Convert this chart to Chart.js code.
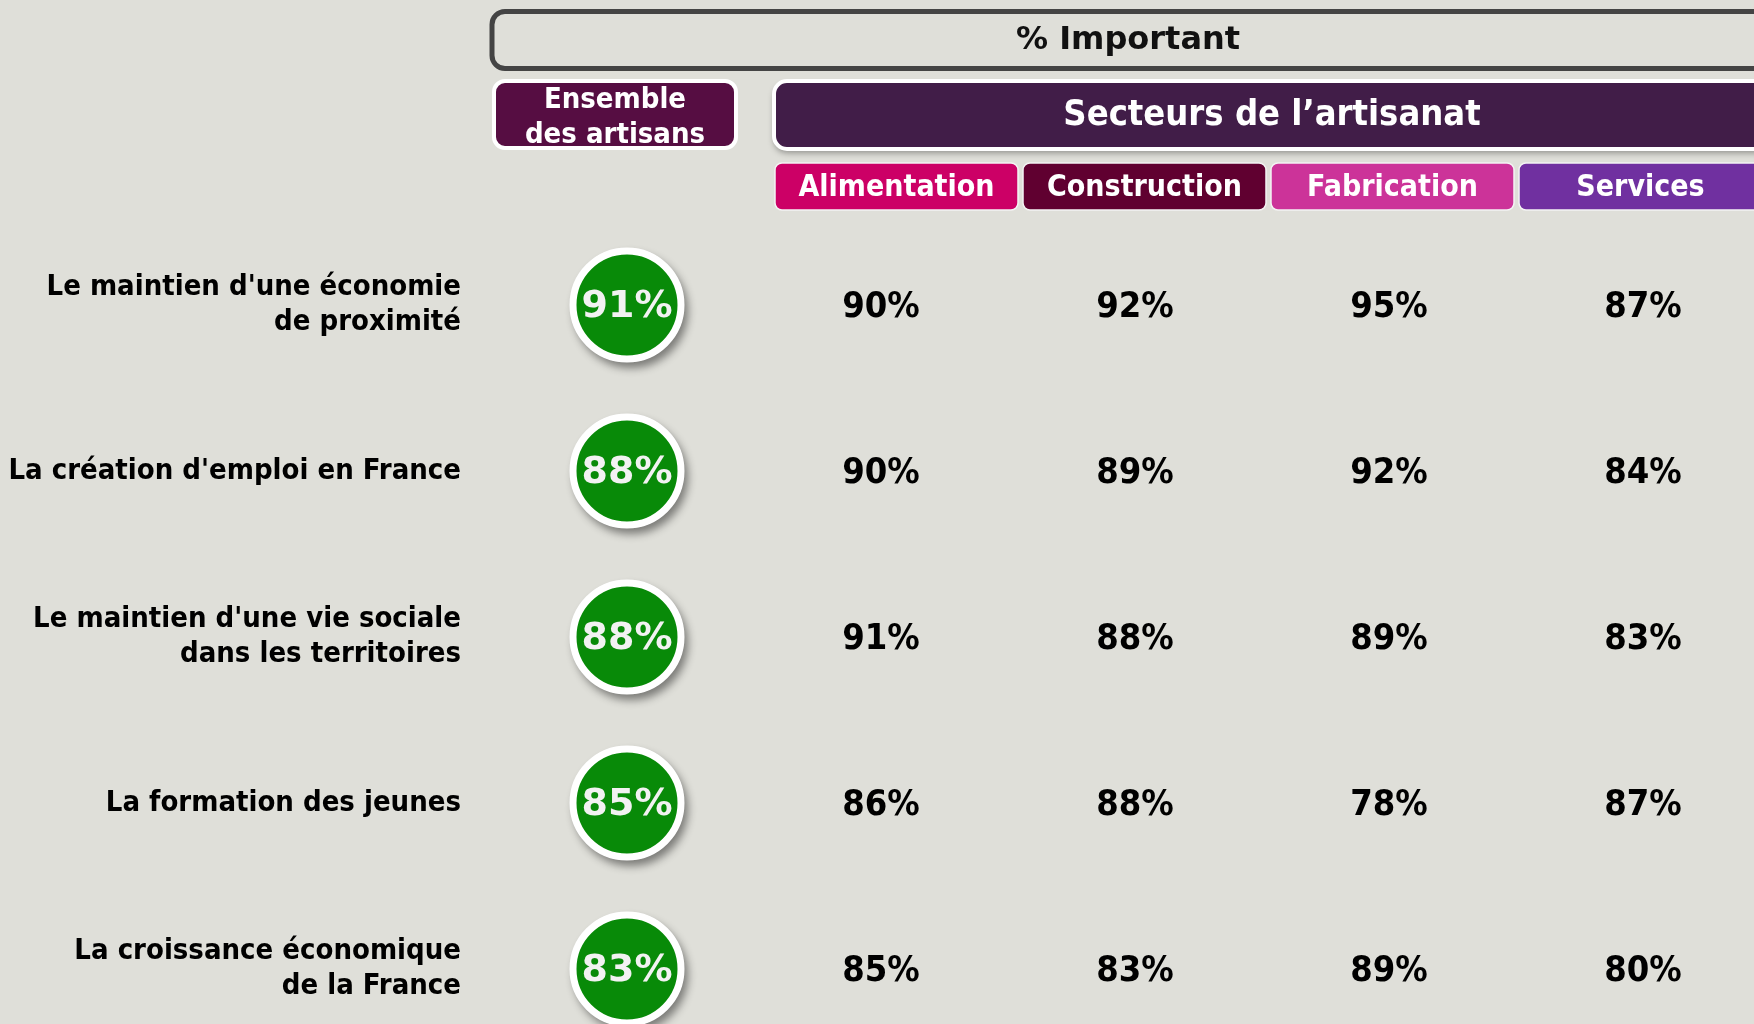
<!DOCTYPE html>
<html>
<head>
<meta charset="utf-8">
<script src="https://cdn.jsdelivr.net/npm/chart.js@4.4.0/dist/chart.umd.min.js"></script>
<style>
html, body { margin: 0; padding: 0; background: #dfdfd9; overflow: hidden; }
#wrap { width: 1754px; height: 1024px; overflow: hidden; position: relative; }
canvas { display: block; }
</style>
</head>
<body>
<div id="wrap"><canvas id="myChart" width="1790" height="1060"></canvas></div>
<script>
// rows (questions) and columns
var rowLabels = [
    ["Le maintien d'une économie", "de proximité"],
    "La création d'emploi en France",
    ["Le maintien d'une vie sociale", "dans les territoires"],
    "La formation des jeunes",
    ["La croissance économique", "de la France"]
];
var columns = ['Ensemble des artisans', 'Alimentation', 'Construction', 'Fabrication', 'Services'];

// % important
var ensemble = [91, 88, 88, 85, 83];
var alimentation = [90, 90, 91, 86, 85];
var construction = [92, 89, 88, 88, 83];
var fabrication = [95, 92, 89, 78, 89];
var services = [87, 84, 83, 87, 80];

var sectorColors = ['#cc0066', '#600030', '#cc3399', '#7030a0'];
var condFont = '"DejaVu Sans Condensed", "DejaVu Sans", sans-serif';
var wideFont = '"DejaVu Sans", sans-serif';

// x by column name, y by row index
function points(values, col) {
    return values.map(function (v, i) { return { x: columns[col], y: i }; });
}

function box(ctx, x, y, w, h, r, fill, stroke, lw) {
    ctx.beginPath();
    ctx.roundRect(x, y, w, h, r);
    if (fill) { ctx.fillStyle = fill; ctx.fill(); }
    if (stroke) { ctx.lineWidth = lw; ctx.strokeStyle = stroke; ctx.stroke(); }
}

// header boxes above the grid
var headerPlugin = {
    id: 'headers',
    beforeDraw: function (chart) {
        var ctx = chart.ctx;
        var xs = chart.scales.x;
        var half = (xs.getPixelForValue(1) - xs.getPixelForValue(0)) / 2;
        var right = chart.chartArea.right;
        ctx.save();
        ctx.fillStyle = '#dfdfd9';
        ctx.fillRect(0, 0, chart.width, chart.height);

        ctx.textAlign = 'center';
        ctx.textBaseline = 'middle';

        // % Important
        var ensLeft = xs.getPixelForValue(0) - half - 6;
        box(ctx, ensLeft - 2, 11.5, right - ensLeft, 57, 13, null, '#444444', 5);
        ctx.fillStyle = '#111';
        ctx.font = 'bold 32px ' + wideFont;
        ctx.fillText('% Important', (ensLeft + right) / 2 - 4, 41);

        // Ensemble des artisans
        box(ctx, ensLeft, 81, 2 * half - 12, 67, 11, '#560d42', '#ffffff', 4);
        ctx.fillStyle = '#ffffff';
        ctx.font = 'bold 29px ' + condFont;
        ctx.fillText('Ensemble', ensLeft + half - 6, 100);
        ctx.fillText('des artisans', ensLeft + half - 6, 135);

        // sector boxes, stepped back from the last column
        var pitch = 2 * half - 6;
        var lastLeft = xs.getPixelForValue(columns.length - 1) - half + 3;
        var firstLeft = lastLeft - (columns.length - 2) * pitch;

        // Secteurs de l'artisanat
        var secLeft = firstLeft - 1;
        ctx.save();
        ctx.shadowColor = 'rgba(0,0,0,0.35)';
        ctx.shadowBlur = 6;
        ctx.shadowOffsetY = 4;
        box(ctx, secLeft, 81, right + 20 - secLeft, 68, 13, '#411d48', null, 0);
        ctx.restore();
        box(ctx, secLeft, 81, right + 20 - secLeft, 68, 13, null, '#ffffff', 4);
        ctx.fillStyle = '#ffffff';
        ctx.font = 'bold 36px ' + condFont;
        ctx.fillText('Secteurs de l\u2019artisanat', (secLeft + right) / 2, 116);

        // sector names
        ctx.font = 'bold 30px ' + condFont;
        for (var j = 1; j < columns.length; j++) {
            var bx = firstLeft + (j - 1) * pitch;
            box(ctx, bx, 163, pitch - 5, 47, 7, sectorColors[j - 1], '#f4f4f4', 1.5);
            ctx.fillStyle = '#ffffff';
            ctx.fillText(columns[j], bx + (pitch - 5) / 2, 188);
        }
        ctx.restore();
    },
    beforeDatasetDraw: function (chart, args) {
        if (args.index !== 0) return;
        // soft shadow under the green circles
        var ctx = chart.ctx;
        ctx.save();
        ctx.shadowColor = 'rgba(0,0,0,0.45)';
        ctx.shadowBlur = 9;
        ctx.shadowOffsetX = 4;
        ctx.shadowOffsetY = 6;
        ctx.fillStyle = '#ffffff';
        args.meta.data.forEach(function (pt) {
            ctx.beginPath();
            ctx.arc(pt.x, pt.y, 57, 0, Math.PI * 2);
            ctx.fill();
        });
        ctx.restore();
    },
    afterDatasetsDraw: function (chart) {
        var ctx = chart.ctx;
        ctx.save();
        ctx.textAlign = 'center';
        ctx.textBaseline = 'middle';
        chart.data.datasets.forEach(function (ds, d) {
            var meta = chart.getDatasetMeta(d);
            meta.data.forEach(function (pt, i) {
                if (d === 0) {
                    ctx.fillStyle = '#f2f2f2';
                    ctx.font = 'bold 38px ' + wideFont;
                    ctx.fillText(ds.values[i] + '%', pt.x, pt.y + 2);
                } else {
                    ctx.fillStyle = '#000000';
                    ctx.font = 'bold 36px ' + condFont;
                    ctx.fillText(ds.values[i] + '%', pt.x, pt.y + 3);
                }
            });
        });
        ctx.restore();
    }
};

var ctx = document.getElementById('myChart').getContext('2d');
var myChart = new Chart(ctx, {
    type: 'scatter',
    plugins: [headerPlugin],
    data: {
        datasets: [
            { label: columns[0], values: ensemble, data: points(ensemble, 0),
              pointRadius: 54, pointBorderWidth: 7, pointHoverRadius: 54,
              backgroundColor: '#088a08', borderColor: '#ffffff', clip: false },
            { label: columns[1], values: alimentation, data: points(alimentation, 1), pointRadius: 0, pointHoverRadius: 0, clip: false },
            { label: columns[2], values: construction, data: points(construction, 2), pointRadius: 0, pointHoverRadius: 0, clip: false },
            { label: columns[3], values: fabrication, data: points(fabrication, 3), pointRadius: 0, pointHoverRadius: 0, clip: false },
            { label: columns[4], values: services, data: points(services, 4), pointRadius: 0, pointHoverRadius: 0, clip: false }
        ]
    },
    options: {
        responsive: false,
        animation: false,
        events: [],
        layout: { autoPadding: false, padding: { top: 222, bottom: 8, right: 20, left: 0 } },
        plugins: {
            legend: { display: false },
            tooltip: { enabled: false }
        },
        scales: {
            x: {
                type: 'category',
                labels: columns,
                offset: true,
                display: false
            },
            y: {
                type: 'category',
                labels: rowLabels,
                offset: true,
                grid: { display: false },
                border: { display: false },
                ticks: {
                    padding: 31,
                    color: '#000000',
                    font: { family: condFont, size: 29, weight: 'bold', lineHeight: 1.2 }
                },
                afterFit: function (scale) {
                    scale.width = 500;
                    scale.paddingTop = 0;
                    scale.paddingBottom = 0;
                }
            }
        }
    }
});
</script>
</body>
</html>
